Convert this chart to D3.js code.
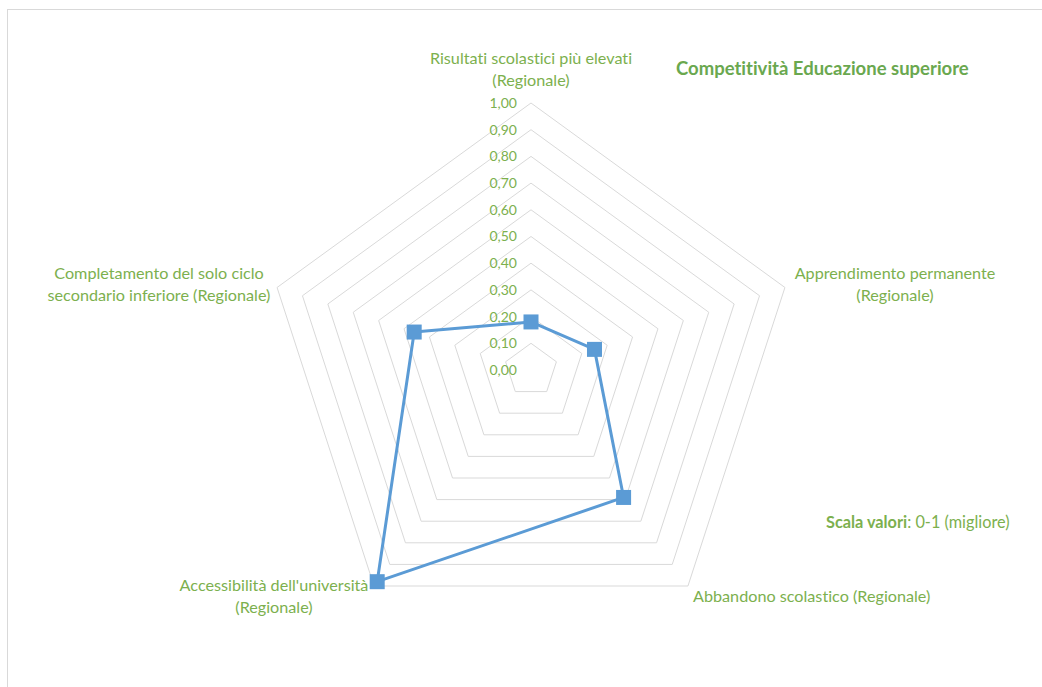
<!DOCTYPE html>
<html>
<head>
<meta charset="utf-8">
<script src="https://cdn.jsdelivr.net/npm/d3@7"></script>
<style>
  html, body { margin: 0; padding: 0; background: #fff; }
  svg { display: block; font-family: Lato, "Open Sans", sans-serif; font-variant-ligatures: none; }
</style>
</head>
<body>
<svg id="chart" width="1042" height="687"></svg>
<script>
// Indicator axes (clockwise from top) and their regional scores
const axes = [
  ["Risultati scolastici più elevati", "(Regionale)"],
  ["Apprendimento permanente", "(Regionale)"],
  ["Abbandono scolastico (Regionale)"],
  ["Accessibilità dell'università", "(Regionale)"],
  ["Completamento del solo ciclo", "secondario inferiore (Regionale)"]
];
const values = [0.18, 0.25, 0.59, 0.98, 0.46];
const ticks = [0, 0.1, 0.2, 0.3, 0.4, 0.5, 0.6, 0.7, 0.8, 0.9, 1.0];
const titleText = "Competitività Educazione superiore";
const scaleNoteBold = "Scala valori";
const scaleNoteRest = ": 0-1 (migliore)";

const svg = d3.select("#chart");
const cx = 531, cy = 370, R = 267;
const green = "#7cb04e";
const blue = "#5b9bd5";

// outer chart frame
svg.append("rect")
  .attr("x", 7.5).attr("y", 9.5).attr("width", 1060).attr("height", 700)
  .attr("fill", "none").attr("stroke", "#d9d9d9").attr("stroke-width", 1);

const r = d3.scaleLinear().domain([0, 1]).range([0, R]);
const angle = i => -Math.PI / 2 + i * 2 * Math.PI / axes.length;
const pt = (i, v) => [cx + r(v) * Math.cos(angle(i)), cy + r(v) * Math.sin(angle(i))];

// concentric pentagon gridlines
const gridLine = d3.line().curve(d3.curveLinearClosed);
svg.append("g").selectAll("path")
  .data(ticks.filter(t => t > 0))
  .join("path")
  .attr("d", t => gridLine(axes.map((a, i) => pt(i, t))))
  .attr("fill", "none")
  .attr("stroke", "#d9d9d9")
  .attr("stroke-width", 1);

// radial scale labels along the top axis
const fmt = v => d3.format(".2f")(v).replace(".", ",");
svg.append("g").selectAll("text")
  .data(ticks)
  .join("text")
  .attr("x", cx - 14)
  .attr("y", t => cy - r(t))
  .attr("dy", "0.35em")
  .attr("text-anchor", "end")
  .attr("fill", green)
  .attr("font-size", 14)
  .text(fmt);

// data polygon
const pts = values.map((v, i) => pt(i, v));
svg.append("path")
  .attr("d", gridLine(pts))
  .attr("fill", "none")
  .attr("stroke", blue)
  .attr("stroke-width", 3)
  .attr("stroke-linejoin", "round");

const ms = 15;
svg.append("g").selectAll("rect")
  .data(pts)
  .join("rect")
  .attr("x", d => d[0] - ms / 2)
  .attr("y", d => d[1] - ms / 2)
  .attr("width", ms).attr("height", ms)
  .attr("fill", blue);

// axis category labels
const labelPos = [
  { x: 531, y: 58, anchor: "middle" },
  { x: 895, y: 273, anchor: "middle" },
  { x: 693, y: 596, anchor: "start" },
  { x: 274, y: 585, anchor: "middle" },
  { x: 159, y: 273, anchor: "middle" }
];
const lbl = svg.append("g").attr("fill", green).attr("font-size", 16.2);
axes.forEach((lines, i) => {
  const p = labelPos[i];
  const t = lbl.append("text")
    .attr("x", p.x).attr("y", p.y)
    .attr("text-anchor", p.anchor);
  lines.forEach((s, k) => {
    t.append("tspan").attr("x", p.x).attr("dy", k === 0 ? "0.35em" : "22.5").text(s);
  });
});

// title
svg.append("text")
  .attr("x", 676).attr("y", 69).attr("dy", "0.35em")
  .attr("fill", "#6aa84f").attr("font-size", 18.5).attr("font-weight", "bold")
  .text(titleText);

// scale note
const note = svg.append("text")
  .attr("x", 826).attr("y", 522).attr("dy", "0.35em")
  .attr("fill", green).attr("font-size", 16.3);
note.append("tspan").attr("font-weight", "bold").text(scaleNoteBold);
note.append("tspan").text(scaleNoteRest);
</script>
</body>
</html>
